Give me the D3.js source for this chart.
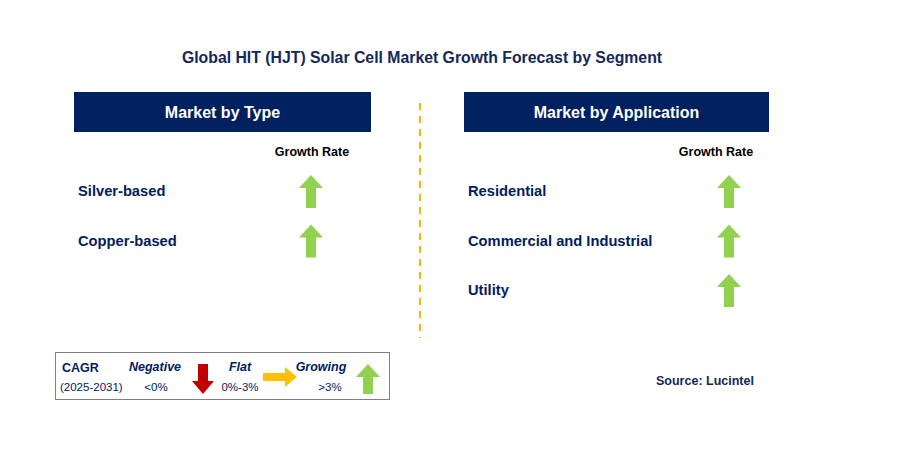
<!DOCTYPE html><html><head><meta charset="utf-8">
<script src="https://cdn.jsdelivr.net/npm/d3@7"></script>
<style>body{margin:0;background:#fff}text{font-family:"Liberation Sans",Arial,sans-serif}</style></head><body>
<svg id="c" width="897" height="468"></svg>
<script>
const title = "Global HIT (HJT) Solar Cell Market Growth Forecast by Segment";
const typeCategories = ["Silver-based", "Copper-based"];
const typeGrowth = ["growing", "growing"];
const appCategories = ["Residential", "Commercial and Industrial", "Utility"];
const appGrowth = ["growing", "growing", "growing"];
const navy = "#002060", green = "#92d050";
const svg = d3.select("#c");
svg.append("text").attr("x",422).attr("y",63).attr("text-anchor","middle").attr("font-size",15.8).attr("font-weight","bold").attr("fill","#14285a").text(title);

function arrowUp(g, cx, top, h){
  const w=24, hw=8, hh=13;
  g.append("path").attr("fill",green)
   .attr("d",`M${cx},${top} L${cx+w/2},${top+hh} L${cx+hw/2+1},${top+hh} L${cx+hw/2+1},${top+h} L${cx-hw/2-1},${top+h} L${cx-hw/2-1},${top+hh} L${cx-w/2},${top+hh} Z`);
}
function panel(x0, x1, header, cats, growth, arrowX, gx){
  svg.append("rect").attr("x",x0).attr("y",92).attr("width",x1-x0).attr("height",40).attr("fill",navy);
  svg.append("text").attr("x",(x0+x1)/2).attr("y",118).attr("text-anchor","middle").attr("fill","#fff").attr("font-size",16).attr("font-weight","bold").text(header);
  svg.append("text").attr("x",gx).attr("y",156).attr("text-anchor","middle").attr("font-size",12.5).attr("font-weight","bold").attr("fill","#000").text("Growth Rate");
  const y = d3.scaleLinear().domain([0,1]).range([191,240.5]);
  cats.forEach((c,i)=>{
    svg.append("text").attr("x",x0+4).attr("y",y(i)+5).attr("font-size",14.7).attr("font-weight","bold").attr("fill",navy).text(c);
    if(growth[i]==="growing") arrowUp(svg, arrowX, y(i)-16, 33);
  });
}
panel(74,371,"Market by Type",typeCategories,typeGrowth,311,312);
panel(464,769,"Market by Application",appCategories,appGrowth,729,716);
svg.append("line").attr("x1",420).attr("x2",420).attr("y1",103).attr("y2",338).attr("stroke","#f5b800").attr("stroke-width",2).attr("stroke-dasharray","7,6");

// legend
const L = svg.append("g");
L.append("rect").attr("x",55.5).attr("y",352.5).attr("width",334).attr("height",47).attr("fill","#fff").attr("stroke","#808080");
const lt=(x,y,t,o={})=>L.append("text").attr("x",x).attr("y",y).attr("font-size",o.s||11.5).attr("font-weight",o.b?"bold":"normal").attr("font-style",o.i?"italic":"normal").attr("text-anchor",o.a||"start").attr("fill",navy).text(t);
lt(62,372,"CAGR",{b:1,s:12.5});
lt(60,391,"(2025-2031)",{s:11.5});
lt(155,371,"Negative",{b:1,i:1,s:12.5,a:"middle"});
lt(156,391,"<0%",{a:"middle"});
lt(240,371,"Flat",{b:1,i:1,s:12.5,a:"middle"});
lt(240,391,"0%-3%",{a:"middle"});
lt(321,371,"Growing",{b:1,i:1,s:12.5,a:"middle"});
lt(330,391,">3%",{a:"middle"});
L.append("path").attr("fill","#c00000").attr("d","M198,364 L208,364 L208,381 L214,381 L203,394 L192,381 L198,381 Z");
L.append("path").attr("fill","#ffc000").attr("d","M263,373 L285,373 L285,367 L297,377 L285,387 L285,381 L263,381 Z");
arrowUp(L,368,364,30);

svg.append("text").attr("x",656).attr("y",385).attr("font-size",12.5).attr("font-weight","bold").attr("fill","#14285a").text("Source: Lucintel");
</script></body></html>
